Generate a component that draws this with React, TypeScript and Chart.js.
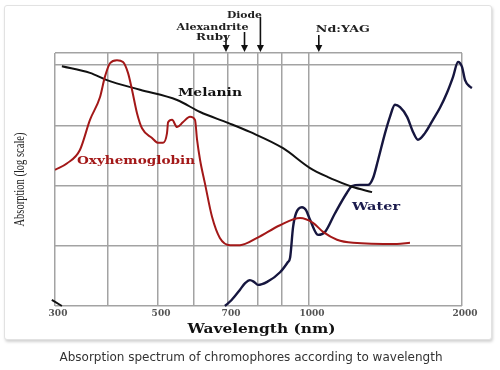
import React, { useEffect, useRef } from 'react';
import { Chart, LinearScale, registerables } from 'chart.js';

// ---------- data ----------
const X_GRID = [300, 400, 500, 600, 700, 800, 900, 1000, 2000];
const X_LABELS = [300, 500, 700, 1000, 2000];
const Y_GRID = [0, 1, 2, 3, 4];
const Y_MAX = 4.2;

const MELANIN_X = [313, 366, 398, 464, 553, 618, 700, 773, 904, 1007, 1124, 1248, 1281, 1412];
const MELANIN_Y = [3.98, 3.87, 3.75, 3.59, 3.42, 3.22, 3.04, 2.89, 2.62, 2.29, 2.14, 2.01, 1.98, 1.89];

const OXY_X = [300, 323, 347, 366, 385, 394, 404, 418, 430, 440, 448, 458, 468, 488, 500, 514, 525, 528, 539, 553, 569, 589, 603, 609, 618, 632, 653, 676, 707, 740, 797, 892, 967, 1026, 1092, 1183, 1288, 1575, 1660];
const OXY_Y = [2.26, 2.37, 2.59, 3.09, 3.47, 3.80, 4.03, 4.08, 4.05, 3.87, 3.59, 3.20, 2.95, 2.79, 2.71, 2.71, 2.87, 3.05, 3.09, 2.97, 3.05, 3.14, 3.09, 2.76, 2.42, 2.04, 1.48, 1.13, 1.01, 1.01, 1.13, 1.34, 1.46, 1.38, 1.23, 1.10, 1.05, 1.03, 1.05];

const WATER_X = [691, 712, 740, 757, 773, 787, 800, 838, 892, 922, 930, 941, 952, 974, 989, 1007, 1059, 1105, 1170, 1248, 1281, 1333, 1386, 1418, 1451, 1497, 1529, 1562, 1595, 1641, 1680, 1712, 1758, 1810, 1856, 1902, 1941, 1974, 2000, 2020, 2052, 2065];
const WATER_Y = [0, 0.10, 0.27, 0.38, 0.43, 0.40, 0.35, 0.40, 0.56, 0.73, 0.80, 1.31, 1.54, 1.64, 1.59, 1.43, 1.18, 1.23, 1.54, 1.88, 1.99, 2.01, 2.01, 2.12, 2.42, 2.87, 3.14, 3.34, 3.30, 3.14, 2.89, 2.76, 2.87, 3.09, 3.29, 3.54, 3.80, 4.05, 3.97, 3.75, 3.64, 3.62];

const STUB_X = [294, 313];
const STUB_Y = [0.1, 0];

const SERIES_NAMES = ['Melanin', 'Oxyhemoglobin', 'Water'];
const SERIES_LABEL_X = [647, 456, 1438];
const SERIES_LABEL_Y = [3.54, 2.41, 1.64];

const LASER_NAMES = ['Ruby', 'Alexandrite', 'Diode', 'Nd:YAG'];
const LASER_WAVELENGTHS = [694, 755, 810, 1064];

// ---------- styles / geometry ----------
const X_WARP = [0, 0.1302, 0.2531, 0.3415, 0.4251, 0.4988, 0.5577, 0.6241, 1];
const RED = '#a31818';
const NAVY = '#16163f';
const BLACK = '#111111';
const GRID = '#a3a3a3';
const SERIES_COLORS = [BLACK, RED, '#1b1b4d'];
const SERIES_LABEL_WIDTH = [64, 118, 48];
const LASER_STYLE = [
  { dx: -13, ty: 38, top: 35, w: 34 },
  { dx: -32, ty: 28, top: 32, w: 72 },
  { dx: -16, ty: 16, top: 17, w: 35 },
  { dx: 24, ty: 30, top: 35, w: 54 },
];

function warp(v: number): number {
  const k = X_GRID, w = X_WARP;
  let i = 0;
  while (i < k.length - 2 && v > k[i + 1]) i++;
  return w[i] + ((v - k[i]) / (k[i + 1] - k[i])) * (w[i + 1] - w[i]);
}
function unwarp(f: number): number {
  const k = X_GRID, w = X_WARP;
  let i = 0;
  while (i < w.length - 2 && f > w[i + 1]) i++;
  return k[i] + ((f - w[i]) / (w[i + 1] - w[i])) * (k[i + 1] - k[i]);
}

class WarpScale extends LinearScale {
  static id = 'warp';
  static defaults = { ...(LinearScale as any).defaults };
  getPixelForValue(value: any) {
    if (value === null || value === undefined || isNaN(value)) return NaN;
    return (this as any).getPixelForDecimal(warp(value));
  }
  getValueForPixel(pixel: number) {
    return unwarp((this as any).getDecimalForPixel(pixel));
  }
}

Chart.register(...registerables, WarpScale as any);

function stretchText(ctx: CanvasRenderingContext2D, text: string, cx: number, cy: number, font: string, color: string, width: number, rotate = 0) {
  ctx.save();
  ctx.font = font;
  ctx.fillStyle = color;
  ctx.textAlign = 'center';
  ctx.textBaseline = 'middle';
  const m = ctx.measureText(text).width;
  ctx.translate(cx, cy);
  if (rotate) ctx.rotate(rotate);
  ctx.scale(width / m, 1);
  ctx.fillText(text, 0, 0);
  ctx.restore();
}

const decorPlugin = {
  id: 'decor',
  afterDraw(chart: any) {
    const ctx: CanvasRenderingContext2D = chart.ctx;
    const xs = chart.scales.x;
    const ys = chart.scales.y;
    const area = chart.chartArea;
    SERIES_NAMES.forEach((name, i) => {
      stretchText(ctx, name, xs.getPixelForValue(SERIES_LABEL_X[i]), ys.getPixelForValue(SERIES_LABEL_Y[i]),
        'bold 11px "DejaVu Serif"', SERIES_COLORS[i], SERIES_LABEL_WIDTH[i]);
    });
    LASER_NAMES.forEach((name, i) => {
      const st = LASER_STYLE[i];
      const x = xs.getPixelForValue(LASER_WAVELENGTHS[i]);
      const tip = area.top - 1;
      ctx.save();
      ctx.strokeStyle = '#111';
      ctx.fillStyle = '#111';
      ctx.lineWidth = 1.6;
      ctx.beginPath();
      ctx.moveTo(x, st.top);
      ctx.lineTo(x, tip - 5);
      ctx.stroke();
      ctx.beginPath();
      ctx.moveTo(x - 3.5, tip - 7);
      ctx.lineTo(x + 3.5, tip - 7);
      ctx.lineTo(x, tip);
      ctx.closePath();
      ctx.fill();
      ctx.restore();
      stretchText(ctx, name, x + st.dx, st.ty, 'bold 9px "DejaVu Serif"', '#222', st.w);
    });
    stretchText(ctx, 'Wavelength (nm)', (area.left + area.right) / 2 + 3, 330, 'bold 12px "DejaVu Serif"', '#111', 148);
    stretchText(ctx, 'Absorption (log scale)', 20, (area.top + area.bottom) / 2, '14px "Liberation Serif"', '#222', 94, -Math.PI / 2);
  },
};

function pts(xs: number[], ys: number[]) {
  return xs.map((x, i) => ({ x, y: ys[i] }));
}

export default function App() {
  const ref = useRef<HTMLCanvasElement | null>(null);
  useEffect(() => {
    if (!ref.current) return;
    const line = (data: any, color: string, width: number, clip: any) => ({
      data,
      borderColor: color,
      borderWidth: width,
      pointRadius: 0,
      fill: false,
      cubicInterpolationMode: 'monotone',
      clip,
    });
    const chart = new Chart(ref.current, {
      type: 'line',
      data: {
        datasets: [
          line(pts(OXY_X, OXY_Y), RED, 2, undefined),
          line(pts(MELANIN_X, MELANIN_Y), BLACK, 2, undefined),
          line(pts(WATER_X, WATER_Y), NAVY, 2.4, false),
          line(pts(STUB_X, STUB_Y), BLACK, 2, false),
        ] as any,
      },
      options: {
        animation: false,
        responsive: false,
        events: [],
        layout: { padding: { left: 0, top: 53, right: 38, bottom: 0 } },
        plugins: { legend: { display: false }, tooltip: { enabled: false } },
        scales: {
          x: {
            type: 'warp' as any,
            min: 290,
            max: 2070,
            afterBuildTicks: (s: any) => { s.ticks = X_GRID.map((v) => ({ value: v })); },
            afterFit: (s: any) => { s.height = 64; },
            border: { display: false },
            grid: { color: GRID, lineWidth: 1.5, drawTicks: false },
            ticks: {
              autoSkip: false,
              maxRotation: 0,
              padding: 2,
              labelOffset: 3,
              color: '#555',
              font: { family: 'DejaVu Serif', size: 9, weight: 'bold' },
              callback: (v: any) => (X_LABELS.includes(Number(v)) ? String(v) : ''),
            },
          } as any,
          y: {
            type: 'linear',
            min: 0,
            max: Y_MAX,
            afterBuildTicks: (s: any) => { s.ticks = [...Y_GRID, Y_MAX].map((v) => ({ value: v })); },
            afterFit: (s: any) => { s.width = 55; },
            border: { display: false },
            grid: { color: GRID, lineWidth: 1.5, drawTicks: false },
            ticks: { display: false },
          },
        },
      },
      plugins: [decorPlugin],
    });
    return () => chart.destroy();
  }, []);

  return (
    <div style={{ position: 'fixed', left: 0, top: 0, width: 500, height: 370, background: '#fff' }}>
      <div style={{ position: 'absolute', left: 4, top: 5, width: 486, height: 333, border: '1px solid #e2e2e2', borderRadius: 3, boxShadow: '1px 2px 3px rgba(0,0,0,0.18)', background: '#fff' }} />
      <canvas ref={ref} width={500} height={370} style={{ position: 'absolute', left: 0, top: 0, width: 500, height: 370 }} />
      <div style={{ position: 'absolute', left: 0, top: 349, width: 502, textAlign: 'center', font: '12px "DejaVu Sans"', lineHeight: '16px', color: '#333' }}>
        Absorption spectrum of chromophores according to wavelength
      </div>
    </div>
  );
}
